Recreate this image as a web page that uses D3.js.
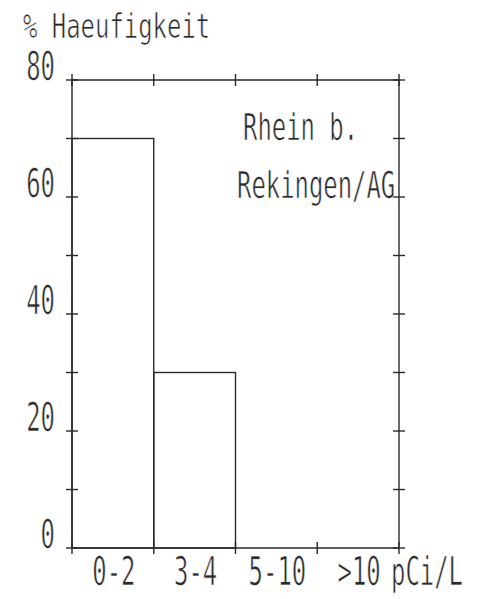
<!DOCTYPE html>
<html><head><meta charset="utf-8">
<script src="https://cdn.jsdelivr.net/npm/d3@7"></script>
<style>
html,body{margin:0;padding:0;background:#fff;}
svg{display:block;}
</style></head>
<body>
<script>
const categories = ["0-2", "3-4", "5-10", ">10"];
const values = [70, 30, 0, 0];
const yTicks = [0, 10, 20, 30, 40, 50, 60, 70, 80];
const yLabels = [0, 20, 40, 60, 80];
const unitLabel = "pCi/L";
const yTitle = "% Haeufigkeit";
const annotation = ["Rhein b.", "Rekingen/AG"];

const W = 479, H = 599;
const ink = "#2a2a2a";
const advance = 14.4;
const fontFam = "'DejaVu Sans Mono', monospace";

const svg = d3.select("body").append("svg").attr("width", W).attr("height", H);

const x = d3.scaleBand().domain(categories).range([72, 399]).padding(0);
const y = d3.scaleLinear().domain([0, 80]).range([548, 80]);

const edges = categories.map(c => x(c)).concat([x.range()[1]]);
const [x0, x1] = x.range();

function label(g, txt, px, py, size, anchor) {
  const sx = advance / (0.602 * size);
  return g.append("text")
    .attr("transform", `translate(${px},${py}) scale(${sx.toFixed(3)},1)`)
    .attr("text-anchor", anchor || "start")
    .attr("font-family", fontFam)
    .attr("font-size", size)
    .style("font-feature-settings", "'zero' 1")
    .attr("fill", ink)
    .attr("stroke", "#fff")
    .attr("stroke-width", 0.7)
    .text(txt);
}

// bars (outline only)
svg.append("g").selectAll("rect").data(values).join("rect")
  .attr("x", (d, i) => x(categories[i]))
  .attr("y", d => y(d))
  .attr("width", x.bandwidth())
  .attr("height", d => y(0) - y(d))
  .attr("fill", "none")
  .attr("stroke", ink)
  .attr("stroke-width", 1.4);

// frame
const axes = svg.append("g").attr("stroke", ink).attr("stroke-width", 1.4).attr("fill", "none");
axes.append("line").attr("x1", x0).attr("x2", x1).attr("y1", y(0)).attr("y2", y(0));
axes.append("line").attr("x1", x0).attr("x2", x1).attr("y1", y(80)).attr("y2", y(80));
axes.append("line").attr("x1", x0).attr("x2", x0).attr("y1", y(0)).attr("y2", y(80));
axes.append("line").attr("x1", x1).attr("x2", x1).attr("y1", y(0)).attr("y2", y(80));

// y ticks left & right (crossing)
[x0, x1].forEach(ax => {
  axes.append("g").selectAll("line").data(yTicks).join("line")
    .attr("x1", ax - 6).attr("x2", ax + 6)
    .attr("y1", d => y(d)).attr("y2", d => y(d));
});
// x ticks bottom & top (crossing)
[y(0), y(80)].forEach(ay => {
  axes.append("g").selectAll("line").data(edges).join("line")
    .attr("x1", d => d).attr("x2", d => d)
    .attr("y1", ay - 6).attr("y2", ay + 6);
});

// y labels
const yl = svg.append("g");
yLabels.forEach(v => label(yl, String(v), x0 - 17, y(v), 39, "end"));

// x labels
const xl = svg.append("g");
categories.forEach(c => label(xl, c, x(c) + x.bandwidth() / 2 + 1, y(0) + 37, 39, "middle"));
label(xl, unitLabel, x1 - 8, y(0) + 37, 39, "start");

// title
label(svg, yTitle, 23, 38, 33, "start");

// annotation
label(svg, annotation[0], x1 - 156, y(80) + 60, 38, "start");
label(svg, annotation[1], x1 - 162, y(80) + 118, 38, "start");
</script>
</body></html>
